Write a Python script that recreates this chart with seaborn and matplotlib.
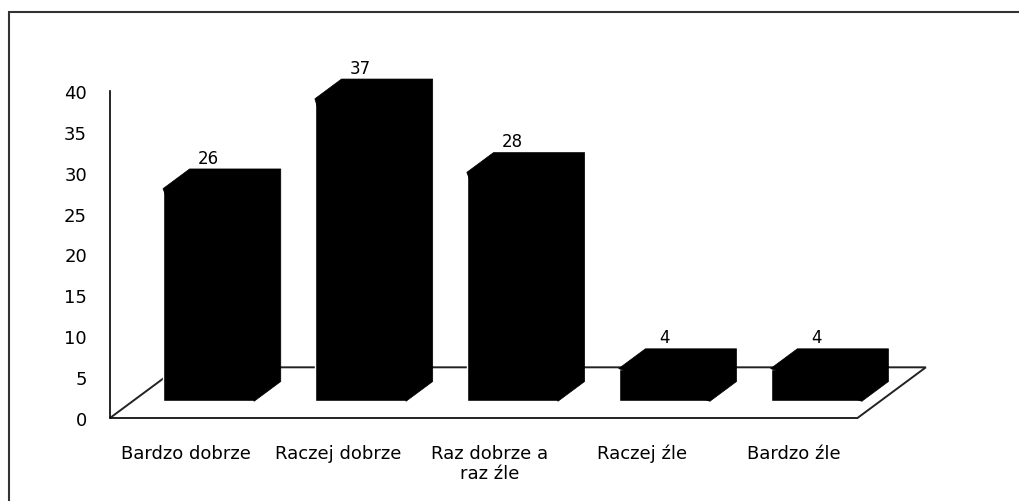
import pandas as pd
import matplotlib
matplotlib.use("Agg")
import matplotlib.pyplot as plt
from matplotlib.patches import Polygon, Rectangle
import seaborn as sns

# dane z wykresu
categories = ["Bardzo dobrze", "Raczej dobrze", "Raz dobrze a\nraz źle", "Raczej źle", "Bardzo źle"]
values = [26, 37, 28, 4, 4]
y_ticks = [0, 5, 10, 15, 20, 25, 30, 35, 40]

# efekt 3D: głębokość podłogi (w jednostkach danych) i położenie słupków w głębi
floor_dx = 0.45
floor_dy = 6.2
bar_front = 0.33
bar_back = 0.72


def plot_bars_3d(df):
    fig = plt.figure(figsize=(10.19, 5.02), dpi=100)
    ax = fig.add_axes([110 / 1019, 83 / 502, 828 / 1019, 327 / 502])

    sns.barplot(data=df, x="kategoria", y="wartosc", color="black",
                width=0.6, saturation=1, ax=ax, zorder=3)

    ax.set_xlim(-0.5, len(categories) - 0.5 + floor_dx)
    ax.set_ylim(0, 40)
    ax.set_yticks(y_ticks)

    # podłoga
    x_left, x_right = -0.5, len(categories) - 0.58
    floor = Polygon([(x_left, 0), (x_right, 0), (x_right + floor_dx, floor_dy),
                     (x_left + floor_dx, floor_dy)], closed=True,
                    facecolor="white", edgecolor="#222222", lw=1.4,
                    zorder=1, clip_on=False)
    ax.add_patch(floor)

    # przesunięcie słupków w głąb + boki i góra
    ddx = (bar_back - bar_front) * floor_dx
    ddy = (bar_back - bar_front) * floor_dy
    base = bar_front * floor_dy
    bars = [p for p in ax.patches if p is not floor]
    for p, v in zip(bars, df["wartosc"]):
        x0 = p.get_x() + bar_front * floor_dx
        w = p.get_width()
        h = p.get_height()
        p.set_x(x0)
        p.set_y(base)
        p.set_clip_on(False)
        side = Polygon([(x0, base + h), (x0 + ddx, base + h + ddy),
                        (x0 + w + ddx, base + h + ddy), (x0 + w + ddx, base + ddy),
                        (x0 + w, base)], closed=True, facecolor="black",
                       edgecolor="black", lw=0.5, joinstyle="miter",
                       zorder=3, clip_on=False)
        ax.add_patch(side)
        ax.text(x0 + w / 2, base + h + ddy + 0.3, str(v), ha="center", va="bottom",
                fontsize=12, color="black")

    for s in ["top", "right", "bottom"]:
        ax.spines[s].set_visible(False)
    ax.spines["left"].set_color("black")
    ax.spines["left"].set_linewidth(1.2)

    ax.tick_params(axis="y", length=0, pad=16.5, labelsize=13, colors="black")
    ax.tick_params(axis="x", length=0, pad=18.5, labelsize=13, colors="black")
    ax.set_xlabel("")
    ax.set_ylabel("")

    # ramka wokół całego obrazka (widoczna lewa i górna krawędź)
    fig.add_artist(Rectangle((9 / 1019, -0.05), 1.1, 1.024, transform=fig.transFigure,
                             fill=False, edgecolor="#333333", lw=1.5))
    return fig


if __name__ == "__main__":
    sns.set_theme(style="white")
    plt.rcParams['font.family'] = ['DejaVu Sans']

    data = pd.DataFrame({"kategoria": categories, "wartosc": values})
    fig = plot_bars_3d(data)
    fig.savefig("out.png", dpi=100)
